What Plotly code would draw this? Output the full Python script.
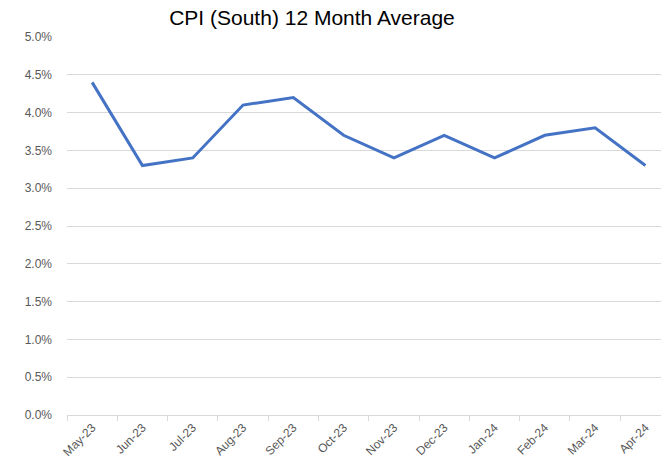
import plotly.graph_objects as go

months = ["May-23", "Jun-23", "Jul-23", "Aug-23", "Sep-23", "Oct-23",
          "Nov-23", "Dec-23", "Jan-24", "Feb-24", "Mar-24", "Apr-24"]
cpi = [0.044, 0.033, 0.034, 0.041, 0.042, 0.037,
       0.034, 0.037, 0.034, 0.037, 0.038, 0.033]
y_ticks = [0.0, 0.005, 0.01, 0.015, 0.02, 0.025, 0.03, 0.035, 0.04, 0.045, 0.05]

fig = go.Figure(go.Scatter(
    x=months, y=cpi, mode="lines",
    line=dict(color="#4472C4", width=3),
))

fig.update_layout(
    width=661, height=468,
    margin=dict(l=67, r=0, t=37, b=53),
    paper_bgcolor="white", plot_bgcolor="white",
    title=dict(text="CPI (South) 12 Month Average", x=0.472, xanchor="center",
               y=0.963, yanchor="middle",
               font=dict(family="Liberation Sans, Arial", size=21, color="#000000")),
    font=dict(family="Liberation Sans, Arial", size=12, color="#595959"),
    showlegend=False,
)
fig.update_xaxes(
    type="category", range=[-0.5, 11.31],
    tickangle=-45, ticks="outside", ticklen=5, tickcolor="#d9d9d9",
    tickson="boundaries",
    showline=True, linecolor="#d9d9d9", linewidth=1,
    showgrid=False, zeroline=False, tickfont=dict(size=12, color="#595959"),
)
fig.update_yaxes(
    range=[0, 0.05], tickvals=y_ticks, tickformat=".1%",
    showgrid=True, gridcolor="#d9d9d9", gridwidth=1,
    zeroline=False, showline=False, ticks="", ticklabelstandoff=14,
    tickfont=dict(size=12, color="#595959"),
)

fig.write_html(
    "out.html",
    config={"displayModeBar": False},
    post_script="document.body.style.margin='0';document.body.style.overflow='hidden';",
)
